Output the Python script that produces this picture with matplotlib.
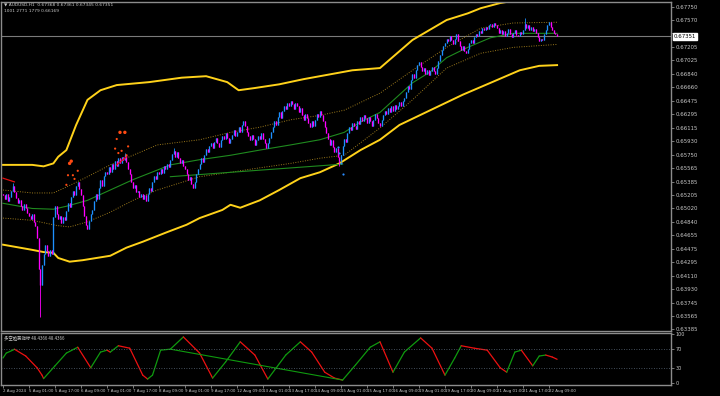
import numpy as np
import matplotlib.pyplot as plt
from matplotlib.transforms import blended_transform_factory

# =========================
# DATA (AUDUSD H1)
# =========================
first_open = 0.6522
closes = [
    0.6520, 0.6515, 0.6522, 0.6512, 0.6518, 0.6526, 0.6532, 0.6524, 0.6516, 0.6510, 0.6514, 0.6506, 0.6500, 0.6508, 0.6502, 0.6496,
    0.6492, 0.6488, 0.6495, 0.6484, 0.6478, 0.6462, 0.6420, 0.6398, 0.6425, 0.6440, 0.6452, 0.6445, 0.6438, 0.6446, 0.6440, 0.6490,
    0.6505, 0.6495, 0.6488, 0.6492, 0.6482, 0.6490, 0.6486, 0.6498, 0.6510, 0.6504, 0.6518, 0.6526, 0.6520, 0.6532, 0.6538, 0.6528,
    0.6520, 0.6505, 0.6492, 0.6480, 0.6474, 0.6485, 0.6494, 0.6500, 0.6512, 0.6522, 0.6515, 0.6530, 0.6540, 0.6532, 0.6546, 0.6552,
    0.6548, 0.6558, 0.6552, 0.6562, 0.6556, 0.6566, 0.6560, 0.6570, 0.6564, 0.6572, 0.6568, 0.6574, 0.6565, 0.6556, 0.6548, 0.6538,
    0.6530, 0.6534, 0.6524, 0.6526, 0.6518, 0.6522, 0.6515, 0.6520, 0.6512, 0.6522, 0.6530, 0.6526, 0.6538, 0.6546, 0.6542, 0.6552,
    0.6548, 0.6556, 0.6550, 0.6560, 0.6555, 0.6562, 0.6558, 0.6568, 0.6576, 0.6580, 0.6572, 0.6578, 0.6570, 0.6564, 0.6568, 0.6560,
    0.6556, 0.6548, 0.6540, 0.6545, 0.6535, 0.6530, 0.6538, 0.6548, 0.6556, 0.6562, 0.6570, 0.6565, 0.6575, 0.6582, 0.6578, 0.6586,
    0.6590, 0.6584, 0.6592, 0.6598, 0.6590, 0.6585, 0.6594, 0.6600, 0.6596, 0.6604, 0.6598, 0.6590, 0.6596, 0.6602, 0.6608, 0.6600,
    0.6606, 0.6612, 0.6605, 0.6615, 0.6620, 0.6614, 0.6606, 0.6600, 0.6594, 0.6602, 0.6596, 0.6588, 0.6594, 0.6600, 0.6596, 0.6604,
    0.6596, 0.6590, 0.6584, 0.6590, 0.6598, 0.6606, 0.6612, 0.6620, 0.6615, 0.6626, 0.6632, 0.6625, 0.6634, 0.6640, 0.6636, 0.6645,
    0.6640, 0.6648, 0.6644, 0.6636, 0.6645, 0.6640, 0.6632, 0.6638, 0.6628, 0.6622, 0.6630, 0.6625, 0.6618, 0.6612, 0.6620, 0.6614,
    0.6622, 0.6630, 0.6626, 0.6634, 0.6628, 0.6620, 0.6612, 0.6604, 0.6596, 0.6588, 0.6594, 0.6585, 0.6578, 0.6584, 0.6572, 0.6566,
    0.6575, 0.6586, 0.6596, 0.6592, 0.6604, 0.6612, 0.6608, 0.6618, 0.6614, 0.6610, 0.6620, 0.6616, 0.6626, 0.6620, 0.6628, 0.6624,
    0.6618, 0.6626, 0.6620, 0.6614, 0.6622, 0.6630, 0.6625, 0.6618, 0.6614, 0.6622, 0.6628, 0.6634, 0.6630, 0.6638, 0.6632, 0.6640,
    0.6634, 0.6642, 0.6636, 0.6640, 0.6646, 0.6640, 0.6648, 0.6652, 0.6660, 0.6668, 0.6664, 0.6676, 0.6684, 0.6678, 0.6690, 0.6696,
    0.6700, 0.6694, 0.6688, 0.6692, 0.6684, 0.6690, 0.6682, 0.6688, 0.6694, 0.6688, 0.6684, 0.6692, 0.6702, 0.6710, 0.6716, 0.6722,
    0.6726, 0.6732, 0.6728, 0.6736, 0.6730, 0.6724, 0.6732, 0.6738, 0.6728, 0.6722, 0.6716, 0.6722, 0.6715, 0.6712, 0.6718, 0.6726,
    0.6730, 0.6726, 0.6734, 0.6738, 0.6735, 0.6742, 0.6740, 0.6746, 0.6744, 0.6748, 0.6745, 0.6750, 0.6752, 0.6748, 0.6753, 0.6750,
    0.6746, 0.6740, 0.6744, 0.6738, 0.6742, 0.6736, 0.6740, 0.6745, 0.6738, 0.6734, 0.6740, 0.6744, 0.6737, 0.6735, 0.6741, 0.6738,
    0.6744, 0.6752, 0.6746, 0.6750, 0.6744, 0.6748, 0.6742, 0.6745, 0.6740, 0.6734, 0.6728, 0.6732, 0.6730, 0.6738, 0.6744, 0.6750,
    0.6754, 0.6748, 0.6744, 0.6740, 0.6738, 0.67351,
]
wick_high = {6: 0.6537, 75: 0.6577, 105: 0.6584, 321: 0.6760}
wick_low = {23: 0.6355, 25: 0.6432, 207: 0.6560}

# outer bands (yellow)
upper_x = [0, 18, 25, 31, 34, 39, 45, 52, 60, 70, 90, 110, 125, 138, 145, 155, 170, 185, 200, 215, 232, 252, 273, 286, 294, 306, 314, 341]
upper_p = [0.6561, 0.6561, 0.6559, 0.6563, 0.6572, 0.6581, 0.6615, 0.6649, 0.6662, 0.6669, 0.6673, 0.6679, 0.6681, 0.6673,
           0.6662, 0.6665, 0.6670, 0.6677, 0.6683, 0.6689, 0.6692, 0.6730, 0.6757, 0.6766, 0.6773, 0.6780, 0.6783, 0.6788]
lower_x = [0, 18, 25, 31, 34, 41, 49, 66, 76, 86, 101, 113, 121, 135, 140, 146, 158, 170, 183, 195, 207, 220, 232, 244, 263, 283, 300, 318, 330, 341]
lower_p = [0.6453, 0.6446, 0.6443, 0.6442, 0.6435, 0.6430, 0.6432, 0.6438, 0.6449, 0.6457, 0.6470, 0.6480, 0.6489, 0.6500, 0.6507,
           0.6503, 0.6513, 0.6527, 0.6543, 0.6551, 0.6563, 0.6581, 0.6595, 0.6615, 0.6635, 0.6656, 0.6672, 0.6689, 0.6695, 0.6696]

# middle line and inner bands
mid_x = [0, 18, 31, 39, 52, 66, 80, 95, 103, 121, 140, 158, 177, 195, 210, 220, 232, 252, 263, 273, 286, 300, 314, 324, 341]
mid_p = [0.6509, 0.6502, 0.6501, 0.6505, 0.6513, 0.6527, 0.6541, 0.6554, 0.6561, 0.6568, 0.6574, 0.6581, 0.6588, 0.6595, 0.6605,
         0.6619, 0.6632, 0.6672, 0.6687, 0.6706, 0.6720, 0.6733, 0.6739, 0.6739, 0.6739]
inner_up_x = [0, 18, 31, 39, 52, 66, 80, 95, 121, 140, 158, 177, 195, 210, 232, 252, 273, 294, 314, 341]
inner_up_p = [0.6527, 0.6523, 0.6523, 0.6531, 0.6545, 0.6561, 0.6574, 0.6588, 0.6595, 0.6605, 0.6612, 0.6622, 0.6628, 0.6635,
              0.6658, 0.6689, 0.6720, 0.6746, 0.6753, 0.6754]
inner_dn_x = [0, 18, 33, 41, 52, 66, 80, 95, 111, 121, 140, 158, 177, 195, 210, 232, 252, 273, 294, 314, 341]
inner_dn_p = [0.6489, 0.6486, 0.6479, 0.6477, 0.6484, 0.6497, 0.6513, 0.6527, 0.6538, 0.6545, 0.6551, 0.6557, 0.6563, 0.6570,
              0.6574, 0.6611, 0.6649, 0.6692, 0.6712, 0.6720, 0.6724]

# trend line pieces
red_lines = [([0, 7], [0.6543, 0.6538]), ([70, 76], [0.6561, 0.6572])]
green_line = ([103, 209], [0.6545, 0.6562])

# signal dots
sell_x = [39, 40, 41, 42, 43, 44, 46, 69, 70, 71, 72, 73, 75, 76, 77]
sell_p = [0.6534, 0.6547, 0.6563, 0.6566, 0.6547, 0.6542, 0.6553, 0.6583, 0.6596, 0.6577, 0.6605, 0.6580, 0.6605, 0.6574, 0.6586]
sell_big = [False, False, True, True, False, False, False, False, False, False, True, False, True, False, False]
buy_x = [206, 207, 208, 209]
buy_p = [0.6585, 0.6577, 0.6563, 0.6549]

# oscillator
osc_x = [0, 2, 6, 7, 14, 21, 24, 25, 32, 39, 46, 54, 60, 64, 66, 71, 78, 86, 89, 92, 97, 103, 111, 121, 129, 137, 146,
         155, 163, 174, 183, 190, 198, 204, 209, 217, 226, 232, 240, 247, 257, 264, 272, 278, 282, 290, 298, 306,
         310, 315, 319, 326, 330, 334, 338, 341]
osc_v = [51, 61, 67, 69, 55, 31, 16, 9, 35, 61, 73, 31, 63, 67, 63, 76, 71, 16, 8, 16, 67, 69, 94, 61, 10, 43, 84,
         57, 8, 57, 84, 63, 22, 10, 6, 37, 73, 84, 22, 63, 92, 71, 16, 51, 76, 71, 67, 31,
         22, 63, 67, 35, 55, 57, 53, 48.4]
osc_line = ([103, 209], [69, 6])

price_ticks = [0.67750, 0.67570, 0.67390, 0.67205, 0.67025, 0.66840, 0.66660, 0.66475, 0.66295, 0.66115, 0.65930,
               0.65750, 0.65565, 0.65385, 0.65205, 0.65020, 0.64840, 0.64655, 0.64475, 0.64295, 0.64110, 0.63930,
               0.63745, 0.63565, 0.63385]
time_labels = ["2 Aug 2024", "5 Aug 01:00", "5 Aug 17:00", "6 Aug 09:00", "7 Aug 01:00", "7 Aug 17:00", "8 Aug 09:00",
               "9 Aug 01:00", "9 Aug 17:00", "12 Aug 09:00", "13 Aug 01:00", "13 Aug 17:00", "14 Aug 09:00",
               "15 Aug 01:00", "15 Aug 17:00", "16 Aug 09:00", "19 Aug 01:00", "19 Aug 17:00", "20 Aug 09:00",
               "21 Aug 01:00", "21 Aug 17:00", "22 Aug 09:00"]
last_price = 0.67351

# =========================
# FIGURE
# =========================
GRID = '#8c8c8c'
TXT = '#c8c8c8'
FS_PRICE = 3.9
FS_SMALL = 3.2
FS_TIME = 2.9

fig = plt.figure(figsize=(7.2, 3.96), dpi=100, facecolor='black')
ax = fig.add_axes([1 / 720, 1 - 331 / 396, 670 / 720, 329 / 396], facecolor='black')
ind = fig.add_axes([1 / 720, 1 - 385 / 396, 670 / 720, 52 / 396], facecolor='black')

# candles
cl = np.array(closes)
op = np.r_[first_open, cl[:-1]]
idx = np.arange(len(cl))
hi = np.maximum(op, cl)
lo = np.minimum(op, cl)
whi = hi.copy()
wlo = lo.copy()
for i, v in wick_high.items():
    whi[i] = max(whi[i], v)
for i, v in wick_low.items():
    wlo[i] = min(wlo[i], v)
up = cl >= op
for mask, col in [(up, '#1E90FF'), (~up, '#FF00FF')]:
    ax.vlines(idx[mask], wlo[mask], whi[mask], color=col, lw=0.6, zorder=3)
    ax.vlines(idx[mask], lo[mask], hi[mask], color=col, lw=0.95, zorder=3)

# bands
ax.plot(upper_x, upper_p, color='#FFD21A', lw=1.4, zorder=2)
ax.plot(lower_x, lower_p, color='#FFD21A', lw=1.4, zorder=2)
ax.plot(mid_x, mid_p, color='#1f8a1f', lw=0.8, zorder=2)
ax.plot(inner_up_x, inner_up_p, color='#9c7a1c', lw=0.7, ls=(0, (1, 1.5)), zorder=2)
ax.plot(inner_dn_x, inner_dn_p, color='#9c7a1c', lw=0.7, ls=(0, (1, 1.5)), zorder=2)
for xs, ps in red_lines:
    ax.plot(xs, ps, color='#e01010', lw=0.9, zorder=4)
ax.plot(green_line[0], green_line[1], color='#1f8a1f', lw=0.8, zorder=2)

# signals
sz = [6 if b else 2.5 for b in sell_big]
ax.scatter(sell_x, sell_p, s=sz, color='#FF4A12', lw=0, zorder=5)
ax.scatter(buy_x, buy_p, s=2.5, color='#2a8cff', lw=0, zorder=5)

# current price line and box
ax.axhline(last_price, color='#7a7a7a', lw=0.8, zorder=1)
tr = blended_transform_factory(ax.transAxes, ax.transData)
ax.text(1.004, last_price, f"{last_price:.5f}", transform=tr, ha='left', va='center', fontsize=FS_PRICE,
        color='black', zorder=10, clip_on=False,
        bbox=dict(boxstyle='square,pad=0.15', fc='white', ec='white'))

ax.set_xlim(-1.23, 411.1)
ax.set_ylim(0.63362, 0.67814)
ax.set_xticks([])
ax.yaxis.tick_right()
ax.set_yticks(price_ticks)
# the 0.67390 label sits under the current-price box
ax.set_yticklabels(["" if abs(t - 0.67390) < 1e-6 else f"{t:.5f}" for t in price_ticks])
ax.tick_params(axis='y', colors=GRID, labelcolor=TXT, labelsize=FS_PRICE, length=2, width=0.6, pad=1.5)
for s in ax.spines.values():
    s.set_color(GRID)
    s.set_linewidth(1)

# oscillator
for i in range(len(osc_x) - 1):
    col = '#0f9a0f' if osc_v[i + 1] >= osc_v[i] else '#ee1111'
    ind.plot(osc_x[i:i + 2], osc_v[i:i + 2], color=col, lw=0.9, solid_capstyle='round')
ind.plot(osc_line[0], osc_line[1], color='#0f9a0f', lw=0.8)
for lvl in (70, 30):
    ind.axhline(lvl, color='#5a6878', lw=0.6, ls=(0, (1, 2)))

ind.set_xlim(-1.23, 411.1)
ind.set_ylim(-4.1, 102)
ind.yaxis.tick_right()
ind.set_yticks([0, 30, 70, 100])
ind.set_yticklabels(['0', '30', '70', '100'])
ind.set_xticks(range(0, 16 * len(time_labels), 16))
ind.set_xticklabels(time_labels, ha='left')
ind.tick_params(axis='both', colors=GRID, labelcolor=TXT, labelsize=FS_TIME, length=2, width=0.6, pad=1)
ind.tick_params(axis='y', labelsize=3.5)
for s in ind.spines.values():
    s.set_color(GRID)
    s.set_linewidth(1)

# header texts
fig.text(4 / 720, 1 - 5 / 396, "\u25bc AUDUSD,H1  0.67368 0.67361 0.67345 0.67351", fontsize=FS_SMALL, color=TXT, va='center')
fig.text(4 / 720, 1 - 11.5 / 396, "1001 2771 1779 0.66169", fontsize=FS_SMALL, color=TXT, va='center')
fig.text(4 / 720, 1 - 339 / 396, "多空趋势指标 48.4366 48.4366", fontsize=FS_SMALL, color=TXT, va='center',
         family=['Noto Sans CJK SC', 'DejaVu Sans'])

fig.savefig('out.png', dpi=100, facecolor='black')
